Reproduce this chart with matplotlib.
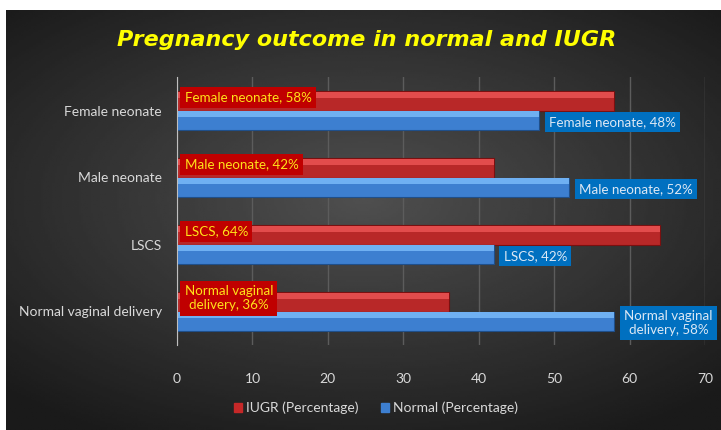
import numpy as np
import matplotlib.pyplot as plt

categories = ["Normal vaginal delivery", "LSCS", "Male neonate", "Female neonate"]
iugr = [36, 64, 42, 58]
normal = [58, 42, 52, 48]
iugr_labels = ["Normal vaginal\ndelivery, 36%", "LSCS, 64%", "Male neonate, 42%", "Female neonate, 58%"]
normal_labels = ["Normal vaginal\ndelivery, 58%", "LSCS, 42%", "Male neonate, 52%", "Female neonate, 48%"]
xticks = [0, 10, 20, 30, 40, 50, 60, 70]

plt.rcParams["font.family"] = ["Lato", "DejaVu Sans"]


def main():
    fig = plt.figure(figsize=(7.21, 4.30), dpi=100)
    fig.patch.set_facecolor("white")

    # dark radial background panel
    bg = fig.add_axes([6 / 721, 0, 715 / 721, 420 / 430])
    gx, gy = np.meshgrid(np.linspace(-1, 1, 300), np.linspace(-1, 1, 200))
    r = np.sqrt((gx * 0.9) ** 2 + (gy + 0.1) ** 2)
    bg.imshow(0.31 - 0.16 * np.clip(r, 0, 1.3), cmap="gray", vmin=0, vmax=1,
              aspect="auto", extent=[0, 1, 0, 1])
    bg.axis("off")

    ax = fig.add_axes([177 / 721, 85 / 430, 528 / 721, 268 / 430])
    ax.set_facecolor("none")
    y = np.arange(len(categories))
    h = 0.29

    # IUGR bars (upper) and Normal bars (lower) with a lighter strip to fake the bevel
    ax.barh(y + h / 2, iugr, height=h, color="#b82828", edgecolor="#7a1010", linewidth=0.8, zorder=3)
    ax.barh(y + h * 0.8, iugr, height=h * 0.3, color="#e24c4c", linewidth=0, zorder=3)
    ax.barh(y - h / 2, normal, height=h, color="#3d7fd0", edgecolor="#1f4f8a", linewidth=0.8, zorder=3)
    ax.barh(y - h * 0.2, normal, height=h * 0.3, color="#6fb0f2", linewidth=0, zorder=3)

    for i in range(len(categories)):
        ax.text(1.0, y[i] + h / 2 + 0.05, iugr_labels[i], color="#ffe21a", fontsize=9.6,
                ha="left", va="center", multialignment="center", zorder=5,
                bbox=dict(boxstyle="square,pad=0.32", facecolor="#c00000", edgecolor="none"))
        ax.text(normal[i] + 1.3, y[i] - h / 2 - 0.03, normal_labels[i], color="#dce8f5", fontsize=9.6,
                ha="left", va="center", multialignment="center", zorder=5, clip_on=False,
                bbox=dict(boxstyle="square,pad=0.32", facecolor="#0070c0", edgecolor="none"))

    ax.set_xlim(0, 70)
    ax.set_ylim(-0.5, 3.5)
    ax.set_xticks(xticks)
    ax.set_yticks(y)
    ax.set_yticklabels(categories)
    ax.tick_params(axis="both", colors="#d9d9d9", labelsize=10, length=0)
    ax.tick_params(axis="x", pad=20)
    ax.tick_params(axis="y", pad=11)
    ax.grid(axis="x", color="#5c5c5c", linewidth=1, zorder=0)
    ax.set_axisbelow(True)
    for side in ["top", "right", "bottom"]:
        ax.spines[side].set_visible(False)
    ax.spines["left"].set_color("#bfbfbf")
    ax.spines["left"].set_zorder(4)

    fig.text(367 / 721, 1 - 40 / 430, "Pregnancy outcome in normal and IUGR", color="#ffff00",
             fontsize=16, fontweight="bold", fontstyle="italic", ha="center", va="center",
             family="DejaVu Sans")

    handles = [plt.Rectangle((0, 0), 1, 1, color="#c62828"), plt.Rectangle((0, 0), 1, 1, color="#3d7fd0")]
    fig.legend(handles, ["IUGR (Percentage)", "Normal (Percentage)"], loc="center",
               bbox_to_anchor=(376 / 721, 1 - 408 / 430), ncol=2, frameon=False,
               labelcolor="#d9d9d9", fontsize=10, handlelength=0.6, handleheight=0.6,
               handletextpad=0.3, columnspacing=1.6)

    fig.savefig("out.png", dpi=100, facecolor=fig.get_facecolor())


if __name__ == "__main__":
    main()
